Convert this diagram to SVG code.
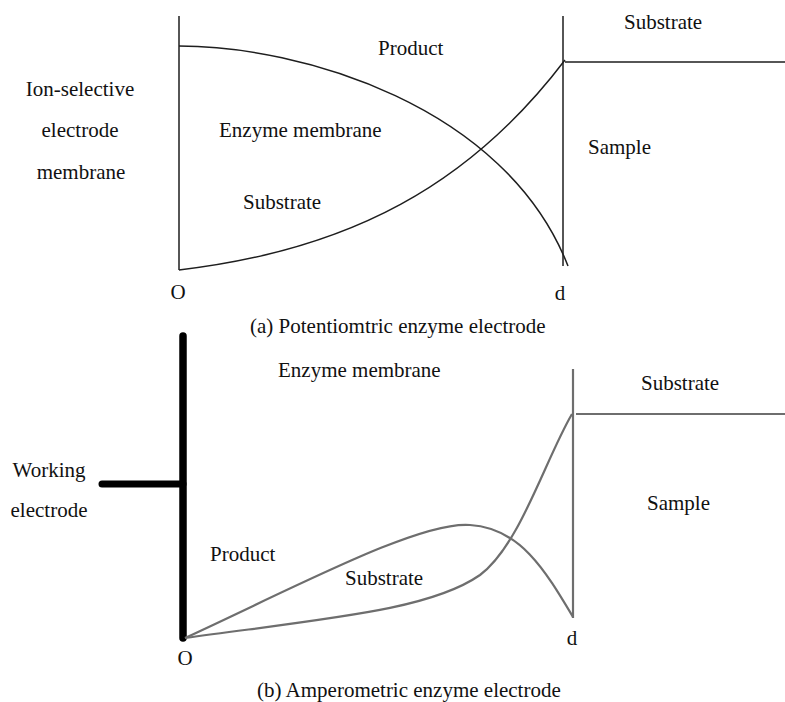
<svg xmlns="http://www.w3.org/2000/svg" width="785" height="702" viewBox="0 0 785 702">
<style>
text{font-family:'Liberation Serif','Times New Roman','DejaVu Serif',serif;font-size:21px;fill:#111}
.a{fill:none;stroke:#1e1e1e;stroke-width:1.5}
.b{fill:none;stroke:#6e6e6e;stroke-width:2.2}
.m{text-anchor:middle}
</style>
<rect width="785" height="702" fill="#fff"/>
<g id="connectors">
<path class="a" d="M179,16 V270"/>
<path class="a" d="M563,16 V266"/>
<path class="a" d="M565,62 H785"/>
<path class="a" d="M179,46 C300,46 505,105 568,266"/>
<path class="a" d="M179,270 C350,250 470,185 565,60"/>
<path d="M183,336 V638" fill="none" stroke="#000" stroke-width="7.5" stroke-linecap="round"/>
<path d="M102,484 H183" fill="none" stroke="#000" stroke-width="7" stroke-linecap="round"/>
<path class="b" d="M573,369 V618"/>
<path class="b" d="M576,414 H785"/>
<path class="b" d="M185,638 C300,585 420,521 470,525 C520,528 545,570 573,617"/>
<path class="b" d="M185,638 C330,618 430,610 480,575 C520,545 545,460 572,414"/>
</g>
<g id="a-labels" font-family="Liberation Serif, Times New Roman, serif">
<text x="80" y="96" class="m">Ion-selective</text>
<text x="80" y="137" class="m">electrode</text>
<text x="81" y="179" class="m">membrane</text>
<text x="378" y="55">Product</text>
<text x="219" y="137">Enzyme membrane</text>
<text x="243" y="209">Substrate</text>
<text x="624" y="29">Substrate</text>
<text x="588" y="154">Sample</text>
<text x="178" y="299" class="m">O</text>
<text x="560" y="300" class="m">d</text>
<text x="250" y="333">(a) Potentiomtric enzyme electrode</text>
</g>
<g id="b-labels" font-family="Liberation Serif, Times New Roman, serif">
<text x="278" y="377">Enzyme membrane</text>
<text x="49" y="477" class="m">Working</text>
<text x="49" y="517" class="m">electrode</text>
<text x="210" y="561">Product</text>
<text x="345" y="585">Substrate</text>
<text x="641" y="390">Substrate</text>
<text x="647" y="510">Sample</text>
<text x="185" y="665" class="m">O</text>
<text x="572" y="645" class="m">d</text>
<text x="257" y="697">(b) Amperometric enzyme electrode</text>
</g>
</svg>
